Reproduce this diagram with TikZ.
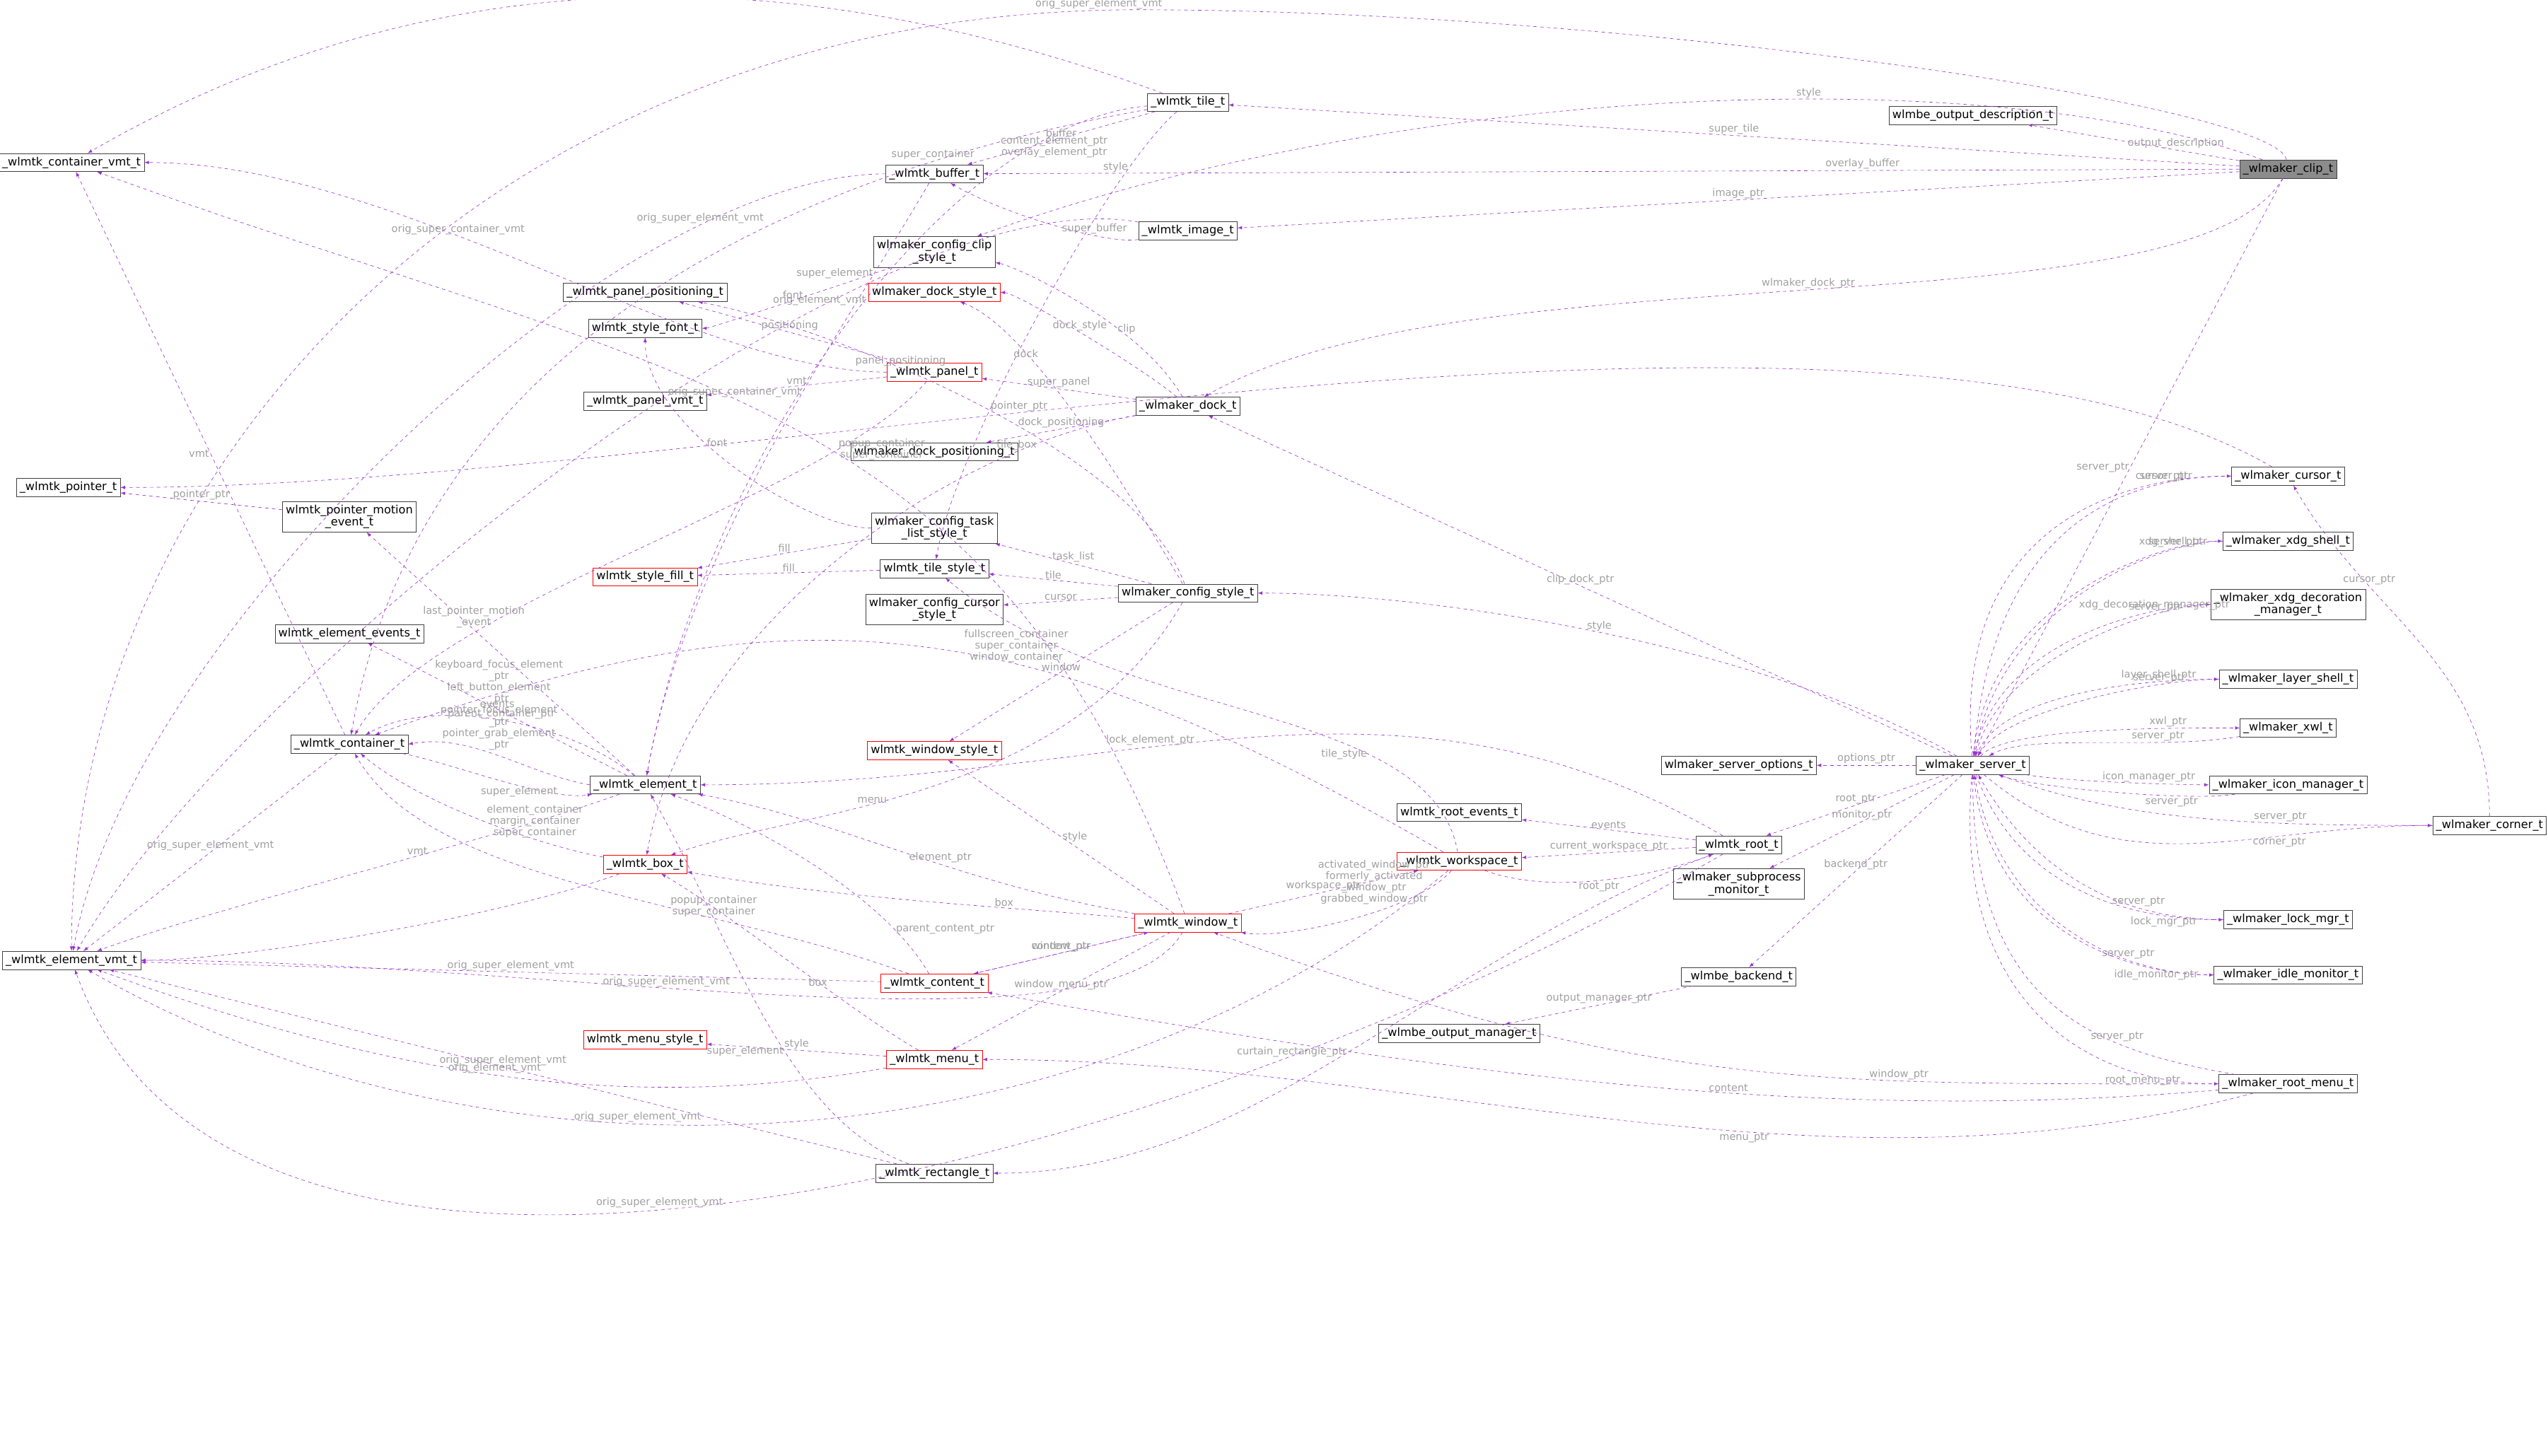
\documentclass[tikz,border=0pt]{standalone}
\usepackage{fontspec}
\setmainfont{DejaVu Sans}
\usetikzlibrary{positioning}
\definecolor{edgec}{HTML}{9A32CD}
\definecolor{lblc}{HTML}{A0A0A0}
\tikzset{
  cls/.style={draw=black!75, fill=white, inner sep=3pt, align=center, font=\fontsize{10}{11}\selectfont},
  redcls/.style={cls, draw=red},
  curcls/.style={cls, fill=black!45},
  dep/.style={dashed, draw=edgec, thin, -latex},
  lbl/.style={text=lblc, font=\fontsize{9}{10}\selectfont, align=center, fill=none, inner sep=1pt}
}
\begin{document}
\begin{tikzpicture}[x=0.05cm, y=0.05cm]
\useasboundingbox (0,0) rectangle (1568,-896);
% classes, right part
\node[curcls] (clip) at (1408,-104) {\_wlmaker\_clip\_t};
\node[cls] (outdesc) at (1214,-71) {wlmbe\_output\_description\_t};
\node[cls] (server) at (1214,-471) {\_wlmaker\_server\_t};
\node[cls] (options) at (1070,-471) {wlmaker\_server\_options\_t};
\node[cls] (cursor) at (1408,-293) {\_wlmaker\_cursor\_t};
\node[cls] (xdgshell) at (1408,-333) {\_wlmaker\_xdg\_shell\_t};
\node[cls] (xdgdeco) at (1408,-372) {\_wlmaker\_xdg\_decoration\\\_manager\_t};
\node[cls] (layershell) at (1408,-418) {\_wlmaker\_layer\_shell\_t};
\node[cls] (xwl) at (1408,-448) {\_wlmaker\_xwl\_t};
\node[cls] (iconmgr) at (1408,-483) {\_wlmaker\_icon\_manager\_t};
\node[cls] (corner) at (1532,-508) {\_wlmaker\_corner\_t};
\node[cls] (lockmgr) at (1408,-566) {\_wlmaker\_lock\_mgr\_t};
\node[cls] (idlemon) at (1408,-600) {\_wlmaker\_idle\_monitor\_t};
\node[cls] (rootmenu) at (1408,-667) {\_wlmaker\_root\_menu\_t};
\node[cls] (root) at (1070,-520) {\_wlmtk\_root\_t};
\node[cls] (submon) at (1070,-544) {\_wlmaker\_subprocess\\\_monitor\_t};
\node[cls] (backend) at (1070,-601) {\_wlmbe\_backend\_t};
\node[cls] (outmgr) at (898,-636) {\_wlmbe\_output\_manager\_t};
\node[cls] (rootevents) at (898,-500) {wlmtk\_root\_events\_t};
\node[redcls] (workspace) at (898,-530) {\_wlmtk\_workspace\_t};
% classes, middle part
\node[cls] (tile) at (731,-63) {\_wlmtk\_tile\_t};
\node[cls] (image) at (731,-142) {\_wlmtk\_image\_t};
\node[cls] (dock) at (731,-250) {\_wlmaker\_dock\_t};
\node[cls] (cfgstyle) at (731,-365) {wlmaker\_config\_style\_t};
\node[redcls] (window) at (731,-568) {\_wlmtk\_window\_t};
\node[cls] (buffer) at (575,-107) {\_wlmtk\_buffer\_t};
\node[cls] (clipstyle) at (575,-155) {wlmaker\_config\_clip\\\_style\_t};
\node[redcls] (dockstyle) at (575,-180) {wlmaker\_dock\_style\_t};
\node[redcls] (panel) at (575,-229) {\_wlmtk\_panel\_t};
\node[cls] (dockpos) at (575,-278) {wlmaker\_dock\_positioning\_t};
\node[cls] (tasklist) at (575,-325) {wlmaker\_config\_task\\\_list\_style\_t};
\node[cls] (tilestyle) at (575,-350) {wlmtk\_tile\_style\_t};
\node[cls] (cursorstyle) at (575,-375) {wlmaker\_config\_cursor\\\_style\_t};
\node[redcls] (winstyle) at (575,-462) {wlmtk\_window\_style\_t};
\node[redcls] (content) at (575,-605) {\_wlmtk\_content\_t};
\node[redcls] (menu) at (575,-652) {\_wlmtk\_menu\_t};
\node[cls] (rect) at (575,-722) {\_wlmtk\_rectangle\_t};
% classes, left part
\node[cls] (panelpos) at (397,-180) {\_wlmtk\_panel\_positioning\_t};
\node[cls] (font) at (397,-202) {wlmtk\_style\_font\_t};
\node[cls] (panelvmt) at (397,-247) {\_wlmtk\_panel\_vmt\_t};
\node[redcls] (fill) at (397,-355) {wlmtk\_style\_fill\_t};
\node[cls] (element) at (397,-483) {\_wlmtk\_element\_t};
\node[redcls] (box) at (397,-532) {\_wlmtk\_box\_t};
\node[redcls] (menustyle) at (397,-640) {wlmtk\_menu\_style\_t};
\node[cls] (motion) at (215,-318) {wlmtk\_pointer\_motion\\\_event\_t};
\node[cls] (elevents) at (215,-390) {wlmtk\_element\_events\_t};
\node[cls] (container) at (215,-458) {\_wlmtk\_container\_t};
\node[cls] (contvmt) at (44,-100) {\_wlmtk\_container\_vmt\_t};
\node[cls] (pointer) at (42,-300) {\_wlmtk\_pointer\_t};
\node[cls] (elvmt) at (44,-591) {\_wlmtk\_element\_vmt\_t};
% clip
\draw[dep] (clip) .. controls +(100:40) and +(0:300) .. (700,-6) .. controls +(180:400) and +(90:300) .. (elvmt) node[lbl,pos=0.02,above]{orig\_super\_element\_vmt};
\draw[dep] (clip) -- node[lbl,above]{super\_tile} (tile);
\draw[dep] (clip) -- node[lbl,above,pos=0.3]{output\_description} (outdesc);
\draw[dep] (clip) .. controls +(160:200) and +(20:300) .. (clipstyle) node[lbl,pos=0.4,above]{style};
\draw[dep] (clip) -- node[lbl,above,pos=0.3]{overlay\_buffer} (buffer);
\draw[dep] (clip) -- node[lbl,above]{image\_ptr} (image);
\draw[dep] (clip) .. controls +(240:120) and +(30:200) .. (dock) node[lbl,above,pos=0.5]{wlmaker\_dock\_ptr};
\draw[dep] (clip) -- node[lbl,left,pos=0.5]{server\_ptr} (server);
% tile, buffer, image
\draw[dep] (tile) .. controls +(160:200) and +(30:300) .. (contvmt) node[lbl,above,pos=0.5]{orig\_super\_container\_vmt};
\draw[dep] (tile) .. controls +(190:250) and +(80:250) .. (container) node[lbl,pos=0.2,above]{super\_container};
\draw[dep] (tile) .. controls +(185:150) and +(80:200) .. (element) node[lbl,pos=0.15,below]{content\_element\_ptr\\overlay\_element\_ptr};
\draw[dep] (tile) -- node[lbl,above]{buffer} (buffer);
\draw[dep] (tile) .. controls +(220:60) and +(80:80) .. (tilestyle) node[lbl,pos=0.2,left]{style};
\draw[dep] (buffer) .. controls +(180:200) and +(80:200) .. (elvmt) node[lbl,above,pos=0.2]{orig\_super\_element\_vmt};
\draw[dep] (buffer) .. controls +(240:100) and +(80:150) .. (element) node[lbl,pos=0.2,left]{super\_element};
\draw[dep] (image) .. controls +(190:50) and +(-30:50) .. (buffer) node[lbl,above,pos=0.3]{super\_buffer};
\draw[dep] (image) .. controls +(170:200) and +(60:200) .. (elvmt) node[lbl,above,pos=0.3]{orig\_element\_vmt};
\draw[dep] (clipstyle) .. controls +(200:40) and +(0:40) .. (font) node[lbl,above,pos=0.5]{font};
% panel, dock
\draw[dep] (panel) .. controls +(180:150) and +(0:200) .. (contvmt) node[lbl,above,pos=0.6]{orig\_super\_container\_vmt};
\draw[dep] (panel) -- node[lbl,above]{positioning} (panelpos);
\draw[dep] (panel) -- node[lbl,above]{vmt} (panelvmt);
\draw[dep] (panel) .. controls +(230:100) and +(60:100) .. (container) node[lbl,pos=0.2,right]{popup\_container\\super\_container};
\draw[dep] (dock) -- node[lbl,above]{super\_panel} (panel);
\draw[dep] (dock) .. controls +(140:40) and +(0:50) .. (dockstyle) node[lbl,above,pos=0.5]{dock\_style};
\draw[dep] (dock) .. controls +(120:60) and +(-10:50) .. (clipstyle) node[lbl,above,pos=0.3]{clip};
\draw[dep] (dock) -- node[lbl,above]{dock\_positioning} (dockpos);
\draw[dep] (dock) .. controls +(190:150) and +(80:150) .. (box) node[lbl,above,pos=0.2]{tile\_box};
\draw[dep] (cursor) .. controls +(150:300) and +(0:400) .. (pointer) node[lbl,above,pos=0.6]{pointer\_ptr};
\draw[dep] (motion) -- node[lbl,above]{pointer\_ptr} (pointer);
% config styles
\draw[dep] (tasklist) -- node[lbl,above]{fill} (fill);
\draw[dep] (tilestyle) -- node[lbl,above]{fill} (fill);
\draw[dep] (tasklist) .. controls +(180:80) and +(-90:60) .. (font) node[lbl,pos=0.6,right]{font};
\draw[dep] (cfgstyle) -- node[lbl,above]{tile} (tilestyle);
\draw[dep] (cfgstyle) -- node[lbl,above]{task\_list} (tasklist);
\draw[dep] (cfgstyle) -- node[lbl,above]{cursor} (cursorstyle);
\draw[dep] (cfgstyle) -- node[lbl,above]{window} (winstyle);
\draw[dep] (cfgstyle) .. controls +(120:80) and +(-20:60) .. (dockstyle) node[lbl,pos=0.7]{dock};
\draw[dep] (cfgstyle) .. controls +(110:100) and +(-10:100) .. (panelpos) node[lbl,pos=0.6,above]{panel\_positioning};
\draw[dep] (cfgstyle) .. controls +(240:150) and +(20:100) .. (box) node[lbl,pos=0.6,above]{menu};
\draw[dep] (server) .. controls +(150:150) and +(0:150) .. (cfgstyle) node[lbl,above,pos=0.5]{style};
% container, element
\draw[dep] (container) -- node[lbl,left]{vmt} (contvmt);
\draw[dep] (container) .. controls +(-10:60) and +(190:60) .. (element) node[lbl,below,pos=0.6]{super\_element};
\draw[dep] (container) -- node[lbl,above]{orig\_super\_element\_vmt} (elvmt);
\draw[dep] (element) .. controls +(140:60) and +(30:60) .. (container) node[lbl,above,pos=0.5]{parent\_container\_ptr};
\draw[dep] (element.west) .. controls +(170:40) and +(10:40) .. (container.east) node[lbl,pos=0.5,above=4pt]{keyboard\_focus\_element\\\_ptr\\left\_button\_element\\\_ptr\\pointer\_focus\_element\\\_ptr\\pointer\_grab\_element\\\_ptr};
\draw[dep] (element) -- node[lbl,above]{events} (elevents);
\draw[dep] (element) -- node[lbl,above,pos=0.6]{last\_pointer\_motion\\\_event} (motion);
\draw[dep] (element) .. controls +(200:100) and +(20:100) .. (elvmt) node[lbl,above,pos=0.4]{vmt};
\draw[dep] (box) .. controls +(170:60) and +(-40:60) .. (container) node[lbl,pos=0.5,right]{element\_container\\margin\_container\\super\_container};
\draw[dep] (box) .. controls +(200:100) and +(0:100) .. (elvmt);
% window, content, menu
\draw[dep] (window) .. controls +(170:150) and +(-10:120) .. (element) node[lbl,pos=0.4,above]{element\_ptr};
\draw[dep] (window) .. controls +(175:120) and +(-10:120) .. (box) node[lbl,pos=0.3,above]{box};
\draw[dep] (window) .. controls +(110:350) and +(-20:400) .. (contvmt) node[lbl,pos=0.55,above]{orig\_super\_container\_vmt};
\draw[dep] (window) -- node[lbl,right]{style} (winstyle);
\draw[dep] (window) -- node[lbl,above]{content\_ptr} (content);
\draw[dep] (window) -- node[lbl,above]{window\_menu\_ptr} (menu);
\draw[dep] (window) .. controls +(240:100) and +(0:300) .. (elvmt) node[lbl,above,pos=0.6]{orig\_super\_element\_vmt};
\draw[dep] (window) -- node[lbl,above]{workspace\_ptr} (workspace);
\draw[dep] (content) -- node[lbl,above]{window\_ptr} (window);
\draw[dep] (content) .. controls +(160:150) and +(-60:100) .. (container) node[lbl,above,pos=0.3]{popup\_container\\super\_container};
\draw[dep] (content) -- node[lbl,above]{orig\_super\_element\_vmt} (elvmt);
\draw[dep] (content) .. controls +(120:60) and +(-20:80) .. (element) node[lbl,pos=0.2,right]{parent\_content\_ptr};
\draw[dep] (menu) -- node[lbl,above]{style} (menustyle);
\draw[dep] (menu) .. controls +(150:60) and +(-30:60) .. (box) node[lbl,pos=0.4]{box};
\draw[dep] (menu) .. controls +(190:200) and +(-20:200) .. (elvmt) node[lbl,above,pos=0.5]{orig\_element\_vmt};
\draw[dep] (rect) .. controls +(160:100) and +(-60:100) .. (element) node[lbl,pos=0.4,left]{super\_element};
\draw[dep] (rect) -- node[lbl,above]{orig\_super\_element\_vmt} (elvmt);
% workspace, root
\draw[dep] (workspace) .. controls +(230:40) and +(-10:60) .. (window) node[lbl,pos=0.1,left=6pt]{activated\_window\_ptr\\formerly\_activated\\\_window\_ptr\\grabbed\_window\_ptr};
\draw[dep] (workspace) .. controls +(150:300) and +(20:300) .. (container) node[lbl,pos=0.4,above]{fullscreen\_container\\super\_container\\window\_container};
\draw[dep] (workspace) .. controls +(220:300) and +(-30:300) .. (elvmt) node[lbl,pos=0.6,above]{orig\_super\_element\_vmt};
\draw[dep] (workspace) .. controls +(100:100) and +(-40:150) .. (tilestyle) node[lbl,pos=0.3,left]{tile\_style};
\draw[dep] (workspace) .. controls +(-20:60) and +(200:60) .. (root) node[lbl,below,pos=0.5]{root\_ptr};
\draw[dep] (root) -- node[lbl,above]{current\_workspace\_ptr} (workspace);
\draw[dep] (root) -- node[lbl,above]{events} (rootevents);
\draw[dep] (root) .. controls +(150:250) and +(0:300) .. (element) node[lbl,above,pos=0.6]{lock\_element\_ptr};
\draw[dep] (root) .. controls +(200:200) and +(0:200) .. (rect) node[lbl,pos=0.5,left]{curtain\_rectangle\_ptr};
\draw[dep] (root) .. controls +(210:400) and +(-70:300) .. (elvmt) node[lbl,pos=0.55,above]{orig\_super\_element\_vmt};
% server
\draw[dep] (server) -- node[lbl,above]{options\_ptr} (options);
\draw[dep] (server) -- node[lbl,above]{root\_ptr} (root);
\draw[dep] (server) -- node[lbl,above]{monitor\_ptr} (submon);
\draw[dep] (server) -- node[lbl,above]{backend\_ptr} (backend);
\draw[dep] (server) -- node[lbl,above]{clip\_dock\_ptr} (dock);
\draw[dep] (backend) -- node[lbl,above]{output\_manager\_ptr} (outmgr);
\draw[dep] (cursor) .. controls +(180:100) and +(85:150) .. (server) node[lbl,above,pos=0.2]{server\_ptr};
\draw[dep] (server) .. controls +(95:150) and +(180:100) .. (cursor) node[lbl,above,pos=0.8]{cursor\_ptr};
\draw[dep] (server) .. controls +(85:100) and +(180:80) .. (xdgshell) node[lbl,above,pos=0.8]{xdg\_shell\_ptr};
\draw[dep] (xdgshell) .. controls +(180:80) and +(80:100) .. (server) node[lbl,above,pos=0.2]{server\_ptr};
\draw[dep] (server) .. controls +(80:80) and +(180:80) .. (xdgdeco) node[lbl,above,pos=0.75]{xdg\_decoration\_manager\_ptr};
\draw[dep] (xdgdeco) .. controls +(180:80) and +(75:70) .. (server) node[lbl,above,pos=0.25]{server\_ptr};
\draw[dep] (server) .. controls +(70:50) and +(180:80) .. (layershell) node[lbl,above,pos=0.75]{layer\_shell\_ptr};
\draw[dep] (layershell) .. controls +(180:80) and +(60:40) .. (server) node[lbl,above,pos=0.25]{server\_ptr};
\draw[dep] (server) .. controls +(50:30) and +(180:80) .. (xwl) node[lbl,above,pos=0.75]{xwl\_ptr};
\draw[dep] (xwl) .. controls +(190:80) and +(30:40) .. (server) node[lbl,above,pos=0.3]{server\_ptr};
\draw[dep] (server) .. controls +(-10:60) and +(180:60) .. (iconmgr) node[lbl,above,pos=0.6]{icon\_manager\_ptr};
\draw[dep] (iconmgr) .. controls +(190:60) and +(-20:40) .. (server) node[lbl,below,pos=0.3]{server\_ptr};
\draw[dep] (corner) .. controls +(180:150) and +(-20:100) .. (server) node[lbl,above,pos=0.3]{server\_ptr};
\draw[dep] (server) .. controls +(-40:120) and +(180:150) .. (corner) node[lbl,below,pos=0.7]{corner\_ptr};
\draw[dep] (corner) .. controls +(90:100) and +(-60:100) .. (cursor) node[lbl,above,pos=0.7]{cursor\_ptr};
\draw[dep] (lockmgr) .. controls +(180:100) and +(-60:80) .. (server) node[lbl,above,pos=0.3]{server\_ptr};
\draw[dep] (server) .. controls +(-70:80) and +(180:100) .. (lockmgr) node[lbl,below,pos=0.8]{lock\_mgr\_ptr};
\draw[dep] (idlemon) .. controls +(180:100) and +(-80:100) .. (server) node[lbl,above,pos=0.3]{server\_ptr};
\draw[dep] (server) .. controls +(-85:100) and +(180:100) .. (idlemon) node[lbl,below,pos=0.8]{idle\_monitor\_ptr};
\draw[dep] (rootmenu) .. controls +(170:120) and +(-90:150) .. (server) node[lbl,above,pos=0.3]{server\_ptr};
\draw[dep] (server) .. controls +(-95:150) and +(180:120) .. (rootmenu) node[lbl,below,pos=0.8]{root\_menu\_ptr};
\draw[dep] (rootmenu) .. controls +(180:300) and +(-20:300) .. (window) node[lbl,above,pos=0.3]{window\_ptr};
\draw[dep] (rootmenu) .. controls +(185:300) and +(-10:300) .. (content) node[lbl,above,pos=0.4]{content};
\draw[dep] (rootmenu) .. controls +(195:300) and +(0:300) .. (menu) node[lbl,below,pos=0.4]{menu\_ptr};
\end{tikzpicture}
\end{document}
